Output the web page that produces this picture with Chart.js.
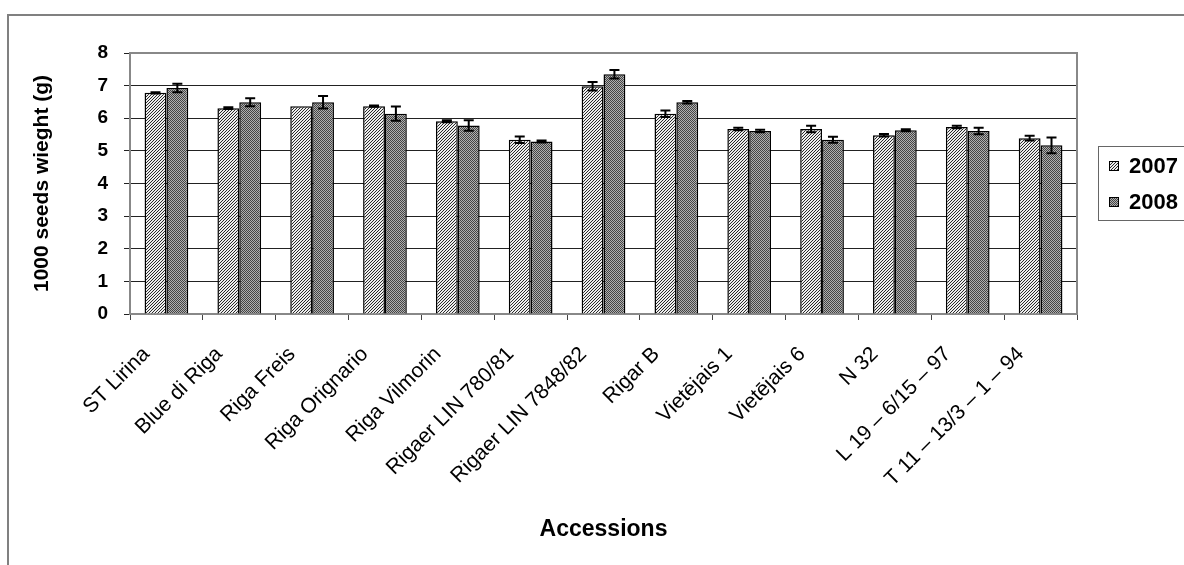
<!DOCTYPE html>
<html>
<head>
<meta charset="utf-8">
<script src="https://cdn.jsdelivr.net/npm/chart.js@4"></script>
<style>
  html, body { margin: 0; padding: 0; background: #fff; }
  #wrap { width: 1184px; height: 565px; }
</style>
</head>
<body>
<div id="wrap"><canvas id="seedChart" width="1184" height="565"></canvas></div>
<script>
const accessions = ['ST Lirina', 'Blue di Riga', 'Riga Freis', 'Riga Orignario', 'Riga Vilmorin',
    'Rigaer LIN 780/81', 'Rigaer LIN 7848/82', 'Rigar B', 'Vietējais 1', 'Vietējais 6',
    'N 32', 'L 19 – 6/15 – 97', 'T 11 – 13/3 – 1 – 94'];
const weight2007 = [6.78, 6.31, 6.37, 6.37, 5.91, 5.34, 6.98, 6.14, 5.67, 5.67, 5.48, 5.73, 5.39];
const weight2008 = [6.93, 6.49, 6.49, 6.14, 5.78, 5.29, 7.35, 6.49, 5.61, 5.34, 5.63, 5.61, 5.17];
const err2007 = [0.02, 0.03, 0, 0.02, 0.03, 0.1, 0.13, 0.1, 0.04, 0.1, 0.04, 0.04, 0.07];
const err2008 = [0.13, 0.12, 0.19, 0.22, 0.16, 0.03, 0.13, 0.04, 0.04, 0.09, 0.03, 0.1, 0.24];
const yTicks = [0, 1, 2, 3, 4, 5, 6, 7, 8];

Chart.defaults.font.family = "'Liberation Sans', Arial, sans-serif";
Chart.defaults.color = '#000';

// little pixel tiles, the way excel fills bars in b/w
function makePattern(kind) {
    const c = document.createElement('canvas');
    const n = kind === 'hatch' ? 3 : 2;
    c.width = n; c.height = n;
    const g = c.getContext('2d');
    for (let x = 0; x < n; x++) {
        for (let y = 0; y < n; y++) {
            if (kind === 'hatch') {
                g.fillStyle = (x + y) % 3 === 2 ? '#2a2a2a' : '#eeeeee';
            } else {
                g.fillStyle = (x + y) % 2 === 0 ? '#444444' : '#b0b0b0';
            }
            g.fillRect(x, y, 1, 1);
        }
    }
    return g.createPattern(c, 'repeat');
}
const hatch = makePattern('hatch');
const checker = makePattern('checker');

const errBars = {
    id: 'errBars',
    afterDatasetsDraw(chart) {
        const ctx = chart.ctx;
        const yScale = chart.scales.y;
        const errs = [err2007, err2008];
        ctx.save();
        ctx.strokeStyle = '#000';
        ctx.lineWidth = 2;
        chart.data.datasets.forEach((ds, i) => {
            const meta = chart.getDatasetMeta(i);
            meta.data.forEach((bar, j) => {
                const e = errs[i][j];
                if (!e) return;
                const top = yScale.getPixelForValue(ds.data[j] + e);
                const bot = yScale.getPixelForValue(ds.data[j] - e);
                ctx.beginPath();
                ctx.moveTo(bar.x, top); ctx.lineTo(bar.x, bot);
                ctx.moveTo(bar.x - 5, top); ctx.lineTo(bar.x + 5, top);
                ctx.moveTo(bar.x - 5, bot); ctx.lineTo(bar.x + 5, bot);
                ctx.stroke();
            });
        });
        ctx.restore();
    }
};

const frame = {
    id: 'frame',
    beforeDraw(chart) {
        const ctx = chart.ctx;
        ctx.save();
        ctx.fillStyle = '#fff';
        ctx.fillRect(0, 0, chart.width, chart.height);
        ctx.strokeStyle = '#808080';
        ctx.lineWidth = 2;
        ctx.strokeRect(8, 15, 1400, 1000);
        ctx.restore();
    },
    afterDraw(chart) {
        const ctx = chart.ctx;
        const a = chart.chartArea;
        ctx.save();
        ctx.strokeStyle = '#888';
        ctx.lineWidth = 2;
        ctx.beginPath();
        ctx.moveTo(a.left, a.top); ctx.lineTo(a.right, a.top); ctx.lineTo(a.right, a.bottom);
        ctx.stroke();

        // legend box on the right
        const bx = 1098, by = 146;
        ctx.lineWidth = 1;
        ctx.strokeStyle = '#666';
        ctx.strokeRect(bx + 0.5, by + 0.5, 200, 74);
        ctx.font = "bold 22px 'Liberation Sans', Arial, sans-serif";
        ctx.textBaseline = 'middle';
        chart.data.datasets.forEach((ds, i) => {
            const cy = by + 20 + i * 36;
            ctx.fillStyle = ds.backgroundColor;
            ctx.fillRect(bx + 11, cy - 5, 10, 10);
            ctx.strokeStyle = '#000';
            ctx.strokeRect(bx + 11.5, cy - 4.5, 9, 9);
            ctx.fillStyle = '#000';
            ctx.fillText(ds.label, bx + 31, cy + 1);
        });
        ctx.restore();
    }
};

new Chart(document.getElementById('seedChart').getContext('2d'), {
    type: 'bar',
    data: {
        labels: accessions,
        datasets: [
            { label: '2007', data: weight2007, backgroundColor: hatch, borderColor: '#000', borderWidth: 1.5 },
            { label: '2008', data: weight2008, backgroundColor: checker, borderColor: '#000', borderWidth: 1.5 }
        ]
    },
    options: {
        responsive: false,
        animation: false,
        layout: { padding: { left: 25, top: 53, right: 107, bottom: 8 } },
        datasets: { bar: { categoryPercentage: 0.6, barPercentage: 1 } },
        plugins: { legend: { display: false }, tooltip: { enabled: false } },
        scales: {
            x: {
                afterFit: (s) => { s.height = 243; },
                grid: { offset: true, drawOnChartArea: false, tickLength: 6, tickColor: '#444' },
                border: { color: '#888', width: 2 },
                ticks: {
                    maxRotation: 45, minRotation: 45, autoSkip: false,
                    labelOffset: -20, padding: 22,
                    font: { size: 21 }
                },
                title: {
                    display: true, text: 'Accessions',
                    font: { size: 23, weight: 'bold' },
                    padding: { top: 4, bottom: 14 }
                }
            },
            y: {
                min: 0, max: 8,
                afterFit: (s) => { s.width = 105; },
                afterBuildTicks: (s) => { s.ticks = yTicks.map(v => ({ value: v })); },
                grid: {
                    color: (c) => c.tick && c.tick.value === 8 ? '#888' : '#222',
                    tickLength: 6, tickColor: '#222'
                },
                border: { color: '#888', width: 2 },
                ticks: { padding: 16, font: { size: 19, weight: 'bold' } },
                title: {
                    display: true, text: '1000 seeds wieght (g)',
                    font: { size: 21, weight: 'bold' },
                    padding: { top: 5, bottom: 0 }
                }
            }
        }
    },
    plugins: [frame, errBars]
});
</script>
</body>
</html>
